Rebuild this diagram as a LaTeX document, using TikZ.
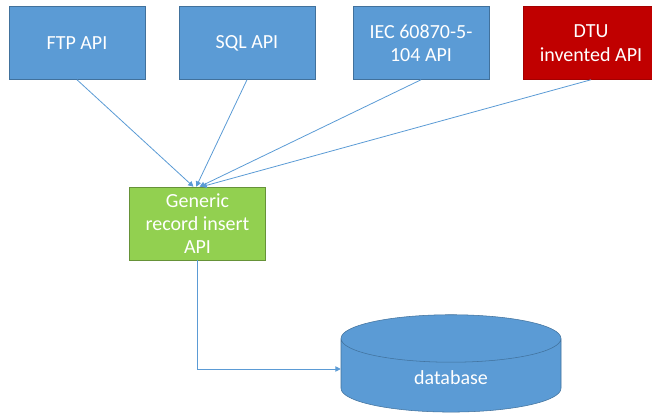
\documentclass[tikz,border=0pt]{standalone}
\usepackage{fontspec}
\setmainfont{Carlito}
\usetikzlibrary{shapes.geometric,arrows.meta}
\definecolor{apiblue}{HTML}{5B9BD5}
\definecolor{apiedge}{HTML}{41719C}
\definecolor{dtured}{HTML}{C00000}
\definecolor{recgreen}{HTML}{92D050}
\tikzset{
  api/.style={draw=apiedge, fill=apiblue, text=white, minimum width=102pt,
    minimum height=54.75pt, align=center, inner sep=2pt,
    font=\fontsize{15}{17.5}\selectfont},
  feed/.style={draw=apiblue, line width=0.6pt, -{Triangle[length=4pt,width=4pt]}},
}

\begin{document}
\begin{tikzpicture}[x=0.75pt,y=-0.75pt]
\useasboundingbox (0,0) rectangle (652,416);
\node[api] (ftp) at (77,43) {FTP API};
\node[api] (sql) at (247,43) {SQL API};
\node[api] (iec) at (421,43) {IEC 60870-5-\\104 API};
\node[api,fill=dtured,draw=dtured!85!black] (dtu) at (591,43) {DTU\\invented API};
\node[api,fill=recgreen,draw=recgreen!70!black] (gen) at (197.5,223.5) {Generic\\record insert\\API};
\node[api,cylinder,shape border rotate=90,aspect=0.6,minimum width=165pt,
  minimum height=73pt] (db) at (451,378) {database};
\draw[feed] (ftp.south) -- ([xshift=-3pt]gen.north);
\draw[feed] (sql.south) -- ([xshift=-1pt]gen.north);
\draw[feed] (iec.south) -- ([xshift=1.5pt]gen.north);
\draw[feed] (dtu.south) -- ([xshift=3pt]gen.north);
\draw[feed] (gen.south) |- ([yshift=6.75pt]db.west);
\end{tikzpicture}
\end{document}
